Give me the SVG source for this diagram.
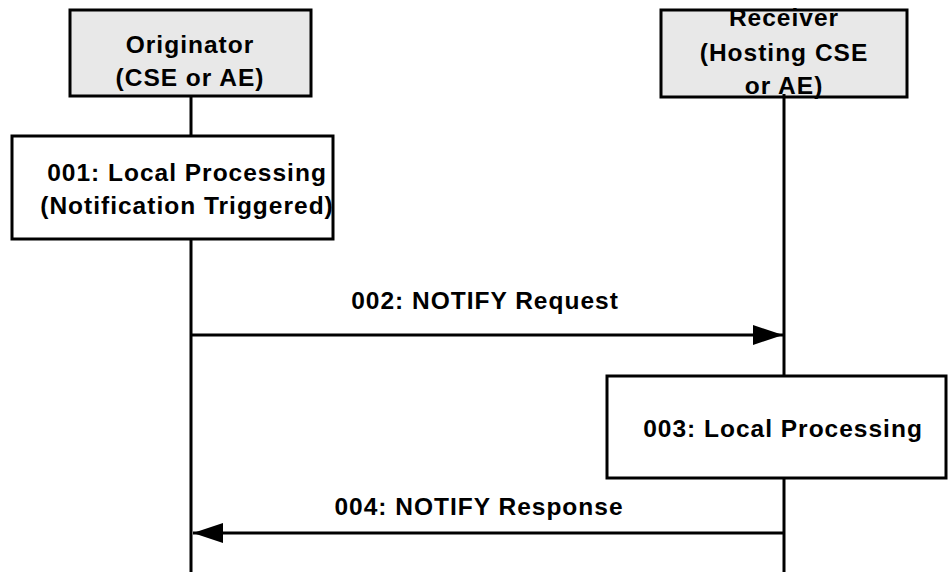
<svg xmlns="http://www.w3.org/2000/svg" width="949" height="572" viewBox="0 0 949 572">
<style>
.box{stroke:#000;stroke-width:3}
.actor{fill:#e8e8e8}
.proc{fill:#fff}
.t{font-family:"Liberation Sans",Arial,sans-serif;font-weight:bold;font-size:24.5px;letter-spacing:1px;fill:#000;text-anchor:middle}
.ll{stroke:#000;stroke-width:3;fill:none}
.msg{stroke:#000;stroke-width:3;fill:none}
</style>
<defs>
<marker id="ah" viewBox="0 0 30 20" refX="30" refY="10" markerWidth="30" markerHeight="20" markerUnits="userSpaceOnUse" orient="auto">
<path d="M0,0 L30,10 L0,20 Z" fill="#000"/>
</marker>
</defs>
<g id="lifelines">
<line class="ll" x1="191" y1="96" x2="191" y2="572"/>
<line class="ll" x1="784" y1="94" x2="784" y2="572"/>
</g>
<g id="originator">
<rect class="box actor" x="70" y="10" width="241" height="86"/>
<text class="t" x="190" y="53">Originator</text>
<text class="t" x="190" y="86">(CSE or AE)</text>
</g>
<g id="receiver">
<rect class="box actor" x="661" y="10" width="246" height="87"/>
<text class="t" x="784" y="26">Receiver</text>
<text class="t" x="784" y="61">(Hosting CSE</text>
<text class="t" x="784" y="94">or AE)</text>
<line class="ll" x1="784" y1="94" x2="784" y2="98"/>
</g>
<g id="step001">
<rect class="box proc" x="12" y="136" width="321" height="103"/>
<text class="t" x="187" y="181">001: Local Processing</text>
<text class="t" x="187" y="214">(Notification Triggered)</text>
</g>
<g id="step003">
<rect class="box proc" x="607" y="376" width="339" height="102"/>
<text class="t" x="783" y="437">003: Local Processing</text>
</g>
<g id="connectors">
<line class="msg" x1="192" y1="335" x2="783" y2="335" marker-end="url(#ah)"/>
<text class="t" x="485" y="309">002: NOTIFY Request</text>
<line class="msg" x1="783" y1="533" x2="193" y2="533" marker-end="url(#ah)"/>
<text class="t" x="479" y="515">004: NOTIFY Response</text>
</g>
</svg>
